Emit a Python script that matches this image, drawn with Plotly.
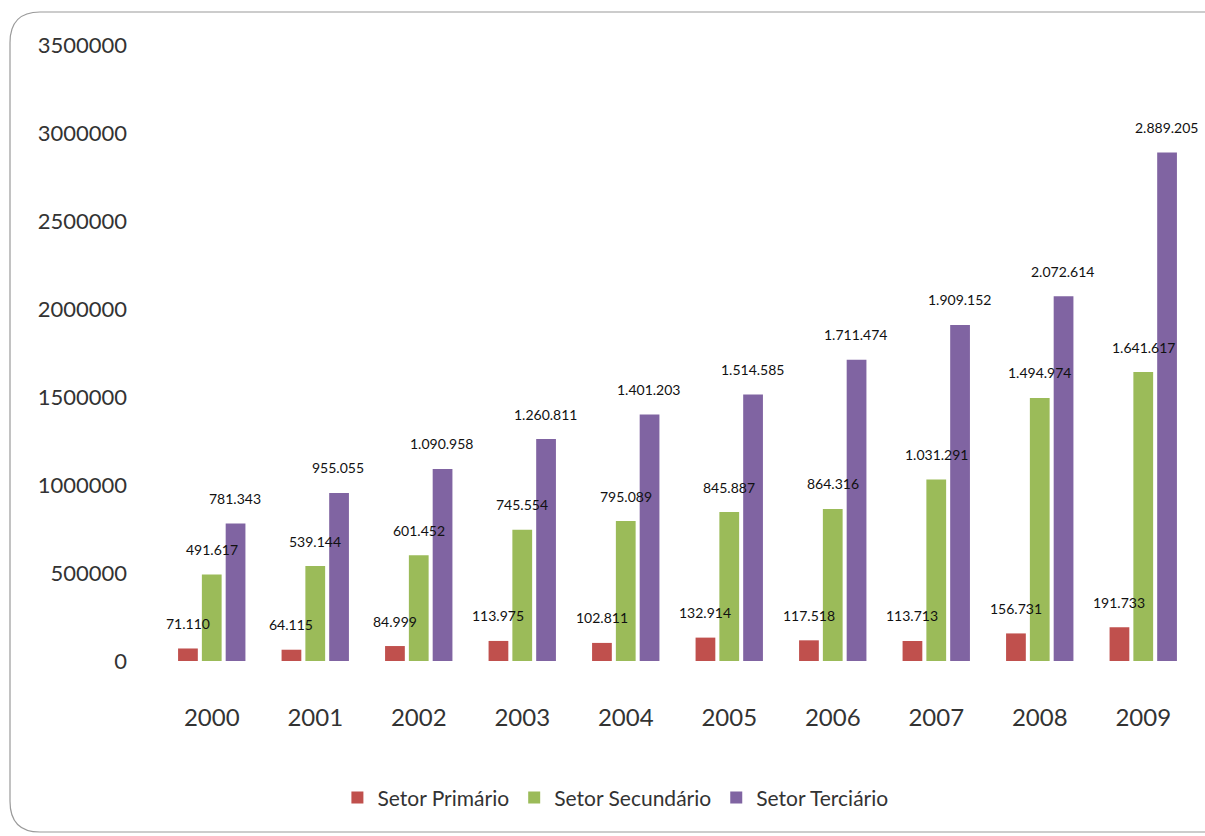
import plotly.graph_objects as go

years = ["2000", "2001", "2002", "2003", "2004", "2005", "2006", "2007", "2008", "2009"]
primario = [71110, 64115, 84999, 113975, 102811, 132914, 117518, 113713, 156731, 191733]
secundario = [491617, 539144, 601452, 745554, 795089, 845887, 864316, 1031291, 1494974, 1641617]
terciario = [781343, 955055, 1090958, 1260811, 1401203, 1514585, 1711474, 1909152, 2072614, 2889205]

series = [
    ("Setor Primário", primario, "#C0504D"),
    ("Setor Secundário", secundario, "#9BBB59"),
    ("Setor Terciário", terciario, "#8064A2"),
]

FONT = "Lato, 'Open Sans', sans-serif"


def fmt(v):
    return f"{v:,}".replace(",", ".")


fig = go.Figure()
for name, vals, col in series:
    fig.add_trace(go.Bar(
        name=name, x=years, y=vals,
        marker=dict(color=col, line=dict(width=0)),
    ))

offsets = [-24, 0, 23]
annotations = []
for (name, vals, col), dx in zip(series, offsets):
    for i, v in enumerate(vals):
        annotations.append(dict(
            x=i, y=v, xref="x", yref="y", text=fmt(v), showarrow=False,
            xshift=dx, yshift=25, font=dict(family=FONT, size=14, color="#111"),
        ))

# rounded border (decorative frame)
PW = 1205 - 160 - 10
L, R, T, B = -150 / PW, 1 + 20 / PW, 1.0536, -0.2776
rx, ry = 30 / PW, 0.05
path = (f"M {L+rx},{B} L {R},{B} L {R},{T} L {L+rx},{T} "
        f"Q {L},{T} {L},{T-ry} L {L},{B+ry} Q {L},{B} {L+rx},{B}")

fig.update_layout(
    width=1205, height=836,
    margin=dict(l=160, r=10, t=45, b=175),
    paper_bgcolor="white", plot_bgcolor="white",
    barmode="group", bargap=0.31, bargroupgap=0.17,
    font=dict(family=FONT, color="#333"),
    annotations=annotations,
    shapes=[dict(type="path", path=path, xref="paper", yref="paper",
                 line=dict(color="#9a9a9a", width=1.2), layer="below")],
    legend=dict(orientation="h", x=0.44, xanchor="center", y=-0.222, yanchor="middle",
                font=dict(family=FONT, size=21, color="#333"), itemwidth=30,
                traceorder="normal"),
    xaxis=dict(type="category", range=[-0.5, len(years) - 0.5], showgrid=False, showline=False,
               zeroline=False, tickfont=dict(family=FONT, size=24, color="#333"),
               ticklabelstandoff=40),
    yaxis=dict(range=[0, 3500000], tickvals=[0, 500000, 1000000, 1500000, 2000000, 2500000, 3000000, 3500000],
               tickformat="d", showgrid=False, showline=False, zeroline=False,
               tickfont=dict(family=FONT, size=22, color="#333"),
               ticklabelstandoff=32),
)

fig.write_html("out.html")
